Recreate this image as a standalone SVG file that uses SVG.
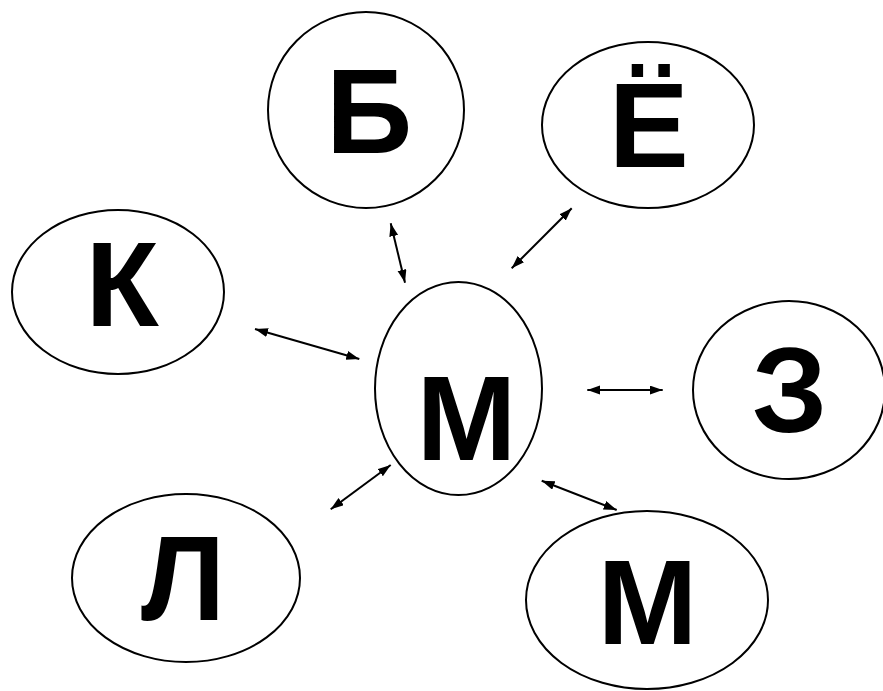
<svg xmlns="http://www.w3.org/2000/svg" width="883" height="691" viewBox="0 0 883 691">
<style>
.n{fill:#fff;stroke:#000;stroke-width:2}
.t{font-family:"Liberation Sans",Arial,sans-serif;font-weight:bold;font-size:120px;fill:#000;text-anchor:middle}
.c{stroke:#000;stroke-width:2;fill:none;marker-start:url(#ah);marker-end:url(#ah)}
</style>
<defs>
<marker id="ah" markerUnits="userSpaceOnUse" markerWidth="14" markerHeight="10" refX="13" refY="4.5" orient="auto-start-reverse" viewBox="0 0 14 10">
<path d="M0,0 L13,4.5 L0,9 z" fill="#000"/>
</marker>
</defs>
<rect width="883" height="691" fill="#fff"/>
<g id="node-B"><ellipse class="n" cx="366" cy="110" rx="98" ry="98"/><text class="t" x="369" y="153">Б</text></g>
<g id="node-YO"><ellipse class="n" cx="648" cy="125" rx="106" ry="83"/><text class="t" x="649" y="167">Ё</text></g>
<g id="node-K"><ellipse class="n" cx="118" cy="292" rx="106" ry="82"/><text class="t" x="122" y="326">К</text></g>
<g id="node-M-center"><ellipse class="n" cx="458.5" cy="388.5" rx="83.5" ry="106.5"/><text class="t" x="466.5" y="460">М</text></g>
<g id="node-Z"><ellipse class="n" cx="789" cy="390" rx="96" ry="89"/><text class="t" x="789.5" y="432">З</text></g>
<g id="node-L"><ellipse class="n" cx="186" cy="578" rx="114" ry="84"/><text class="t" x="183" y="620">Л</text></g>
<g id="node-M-bottom"><ellipse class="n" cx="647" cy="600" rx="121" ry="89"/><text class="t" x="647.5" y="644">М</text></g>
<g id="connectors">
<path class="c" d="M390.7,223.3 L405,282.7"/>
<path class="c" d="M571.7,208.3 L511.7,268.3"/>
<path class="c" d="M255,329 L359.3,359"/>
<path class="c" d="M587.3,390 L662.7,390"/>
<path class="c" d="M390.7,465 L330.7,509.3"/>
<path class="c" d="M541.7,480.7 L616.7,510"/>
</g>
</svg>
